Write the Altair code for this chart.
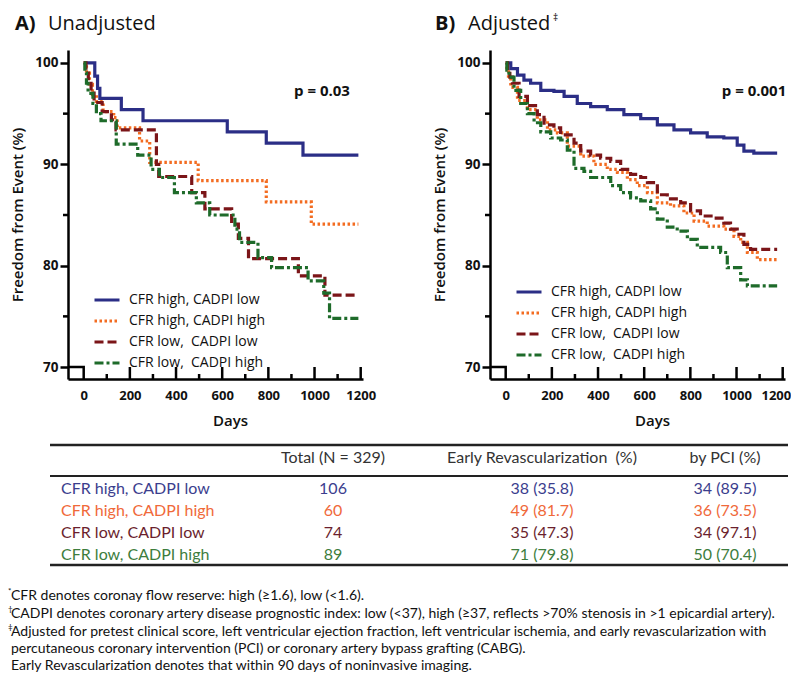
import altair as alt
import pandas as pd

# ---------------- data ----------------
groups = ["CFR high, CADPI low", "CFR high, CADPI high",
          "CFR low,\u00a0 CADPI low", "CFR low,\u00a0 CADPI high"]
line_colors = ["#2b2e86", "#f36c21", "#7b1518", "#1e6b2a"]
line_dashes = [[1, 0], [2.5, 2.5], [9, 4], [9, 3, 3, 3]]

# Panel A (unadjusted Kaplan-Meier)
a_days = [
    [0, 48, 60, 70, 163, 257, 622, 791, 950, 1190],
    [0, 12, 25, 38, 55, 84, 130, 145, 242, 286, 496, 791, 986, 1190],
    [0, 10, 20, 32, 45, 80, 120, 140, 315, 325, 468, 525, 641, 670, 714, 930, 1045, 1190],
    [0, 5, 12, 19, 40, 55, 75, 141, 234, 292, 328, 393, 488, 546, 655, 675, 755, 814, 972, 1040, 1065, 1190],
]
a_surv = [
    [100, 98.7, 97.5, 96.5, 95.4, 94.3, 93.2, 92.1, 90.9, 90.9],
    [100, 99.0, 97.9, 96.9, 96.2, 95.2, 94.6, 93.6, 92.3, 90.2, 88.4, 86.3, 84.1, 84.1],
    [100, 99.0, 98.0, 97.2, 96.1, 95.2, 94.4, 93.4, 90.0, 88.8, 87.2, 85.6, 84.1, 82.7, 80.7, 79.0, 77.1, 77.1],
    [100, 99.0, 98.0, 97.0, 96.0, 95.0, 94.3, 92.0, 90.9, 89.5, 88.7, 87.2, 86.2, 85.0, 83.6, 82.3, 80.8, 79.8, 78.5, 77.3, 74.8, 74.8],
]

# Panel B (adjusted)
b_days = [
    [0, 22, 51, 79, 108, 152, 209, 253, 310, 368, 440, 512, 585, 657, 729, 801, 873, 945, 1003, 1032, 1075, 1176],
    [0, 5, 12, 22, 51, 94, 137, 181, 224, 267, 325, 382, 440, 484, 527, 570, 614, 657, 714, 772, 816, 873, 945, 989, 1018, 1047, 1090, 1176],
    [0, 8, 18, 29, 58, 94, 137, 166, 209, 238, 296, 325, 368, 411, 455, 498, 541, 585, 614, 657, 700, 758, 801, 844, 902, 945, 974, 1003, 1032, 1061, 1176],
    [0, 5, 14, 36, 65, 94, 123, 152, 195, 238, 267, 296, 339, 368, 455, 498, 541, 585, 628, 657, 700, 743, 787, 830, 931, 960, 1018, 1047, 1176],
]
b_surv = [
    [100, 99.45, 98.8, 98.3, 98.0, 97.3, 97.2, 96.7, 96.0, 95.7, 95.4, 94.9, 94.5, 93.9, 93.4, 93.1, 92.7, 92.6, 91.9, 91.3, 91.1, 91.1],
    [100, 99.3, 98.5, 97.6, 96.3, 95.4, 94.4, 93.4, 93.1, 91.8, 90.8, 90.0, 89.5, 89.2, 88.5, 87.9, 87.2, 86.2, 85.9, 85.2, 84.4, 83.9, 83.6, 82.9, 82.3, 81.3, 80.6, 80.6],
    [100, 99.2, 98.6, 98.0, 96.7, 95.8, 94.9, 93.9, 93.6, 92.9, 92.1, 91.3, 90.9, 90.6, 90.3, 89.5, 89.0, 88.7, 88.2, 87.0, 86.6, 86.2, 85.4, 84.9, 84.7, 84.2, 83.6, 83.1, 82.1, 81.6, 81.6],
    [100, 99.3, 98.6, 97.3, 96.0, 95.0, 94.1, 93.2, 92.6, 92.4, 91.4, 89.6, 89.3, 88.7, 87.9, 87.2, 86.7, 86.4, 85.6, 84.6, 83.8, 83.4, 82.6, 81.8, 81.3, 79.8, 78.6, 78.0, 78.0],
]

x_label_values = [0, 200, 400, 600, 800, 1000, 1200]
x_major_ticks = [200, 400, 600, 800, 1000, 1200]
x_minor_ticks = [100, 300, 500, 700, 900, 1100]
y_label_values = [70, 80, 90, 100]
y_minor_ticks = [75, 85, 95]
X_DOMAIN = [-68, 1210]
Y_DOMAIN = [68.82, 101.28]
axis_break_days = [-68, 0, 0]
axis_break_surv = [70, 70, 68.82]

# table
table_labels = ["CFR high, CADPI low", "CFR high, CADPI high", "CFR low, CADPI low", "CFR low, CADPI high"]
table_colors = ["#3b3e8e", "#f0693a", "#6b1f2e", "#3d7d3d"]
table_headers = ["Total (N = 329)", "Early Revascularization\u00a0 (%)", "by PCI (%)"]
total_n = ["106", "60", "74", "89"]
early_revasc = ["38 (35.8)", "49 (81.7)", "35 (47.3)", "71 (79.8)"]
by_pci = ["34 (89.5)", "36 (73.5)", "34 (97.1)", "50 (70.4)"]

footnote_marks = ["*", "\u2020", "\u2021", "", ""]
footnotes = [
    "CFR denotes coronay flow reserve: high (\u22651.6), low (<1.6).",
    "CADPI denotes coronary artery disease prognostic index: low (<37), high (\u226537, reflects >70% stenosis in >1 epicardial artery).",
    "Adjusted for pretest clinical score, left ventricular ejection fraction, left ventricular ischemia, and early revascularization with",
    "\u00a0percutaneous coronary intervention (PCI) or coronary artery bypass grafting (CABG).",
    "Early Revascularization denotes that within 90 days of noninvasive imaging.",
]

# ---------------- layout / style ----------------
W, H = 295, 329
FONT = "Open Sans"
TFONT = "Lato"


def one_text(txt, x, y, size, weight="normal", align="left", color="#111", font=FONT):
    return alt.Chart(pd.DataFrame({"t": [txt]})).mark_text(
        align=align, baseline="middle", font=font, fontSize=size,
        fontWeight=weight, color=color
    ).encode(text="t:N", x=alt.value(x), y=alt.value(y))


def panel(days, surv, letter, word, letter_x, pval, p_x, legend_y, flush_off, extra=None):
    rows = []
    for g, ds, vs in zip(groups, days, surv):
        for d, v in zip(ds, vs):
            rows.append({"group": g, "day": d, "surv": v})
    df = pd.DataFrame(rows)
    xs = alt.Scale(domain=X_DOMAIN, nice=False, zero=False)
    ys = alt.Scale(domain=Y_DOMAIN, nice=False, zero=False)
    leg = alt.Legend(title=None, orient="none", legendX=25, legendY=legend_y,
                     symbolType="stroke", symbolSize=625, symbolStrokeWidth=3,
                     labelFont=FONT, labelFontSize=14, labelColor="#111",
                     rowPadding=-8, padding=0, labelOffset=8)
    xaxis_kw = dict(values=x_label_values, format="d", title="Days", ticks=False, tickSize=0,
                    labelFont=FONT, labelFontSize=13, labelFontWeight="bold", labelColor="#111",
                    labelPadding=10, domainColor="black", domainWidth=2.5, grid=False,
                    titleFont=FONT, titleFontSize=15, titleFontWeight=600, titleColor="#111",
                    titlePadding=11, titleX=162)
    if flush_off is not None:
        xaxis_kw.update(labelFlush=5, labelFlushOffset=flush_off)
    xaxis = alt.Axis(**xaxis_kw)
    yaxis = alt.Axis(
        values=y_label_values, title="Freedom from Event (%)", tickSize=8, tickWidth=2.5,
        tickColor="black", domainColor="black", domainWidth=2.5, grid=False,
        labelFont=FONT, labelFontSize=13.5, labelFontWeight="bold", labelColor="#111",
        labelPadding=2, titleFont=FONT, titleFontSize=15, titleFontWeight=600,
        titleColor="#111", titlePadding=9)
    X = alt.X("day:Q", scale=xs, axis=xaxis)
    Y = alt.Y("surv:Q", scale=ys, axis=yaxis)
    lines = alt.Chart(df).mark_line(interpolate="step-after", strokeWidth=3.2).encode(
        x=X, y=Y,
        color=alt.Color("group:N", scale=alt.Scale(domain=groups, range=line_colors), legend=leg),
        strokeDash=alt.StrokeDash("group:N", scale=alt.Scale(domain=groups, range=line_dashes), legend=leg),
    )
    major = alt.Chart(pd.DataFrame({"day": x_major_ticks})).mark_rule(color="black", strokeWidth=2.5).encode(
        x=X, y=alt.value(H), y2=alt.value(H - 12))
    minor = alt.Chart(pd.DataFrame({"day": x_minor_ticks})).mark_rule(color="black", strokeWidth=2.5).encode(
        x=X, y=alt.value(H), y2=alt.value(H - 5))
    yminor = alt.Chart(pd.DataFrame({"surv": y_minor_ticks})).mark_rule(color="black", strokeWidth=2.5).encode(
        y=Y, x=alt.value(-5), x2=alt.value(0))
    brk = alt.Chart(pd.DataFrame({"day": axis_break_days, "surv": axis_break_surv, "o": [0, 1, 2]})).mark_line(
        color="black", strokeWidth=2.5).encode(x=X, y=Y, order="o:O")
    layers = [lines, major, minor, yminor, brk,
              one_text(letter, letter_x, -26, 20, "bold"),
              one_text(word, letter_x + 33, -26, 20),
              one_text(pval, p_x, 41, 15, "bold", "center")]
    if extra is not None:
        layers.append(extra)
    return alt.layer(*layers).properties(width=W, height=H)


panel_a = panel(a_days, a_surv, "A)", "Unadjusted", -53, "p = 0.03", 254, 236, None)
panel_b = panel(b_days, b_surv, "B)", "Adjusted", -55, "p = 0.001", 264, 228, 8,
                extra=one_text("\u2021", 63, -32, 10))

# ---------------- table + footnotes ----------------
TW, TH = 720, 230
tdf = pd.DataFrame({"group": table_labels, "n": total_n, "early": early_revasc, "pci": by_pci})
row_scale = alt.Scale(type="point", domain=table_labels, range=[50, 116], padding=0)
col_color = alt.Color("group:N", scale=alt.Scale(domain=table_labels, range=table_colors), legend=None)


def col(field, x, align):
    return alt.Chart(tdf).mark_text(align=align, baseline="middle", font=TFONT, fontSize=16).encode(
        text=f"{field}:N", x=alt.value(x), y=alt.Y("group:N", scale=row_scale, axis=None), color=col_color)


def hrule(y, w):
    return alt.Chart(pd.DataFrame({"a": [0]})).mark_rule(color="#222", strokeWidth=w).encode(
        x=alt.value(-18), x2=alt.value(TW), y=alt.value(y))


tlayers = [hrule(6, 2.5), hrule(37, 2.2), hrule(126, 2.5),
           col("group", -7, "left"), col("n", 265, "center"), col("early", 474, "center"), col("pci", 657, "center")]
for htxt, hx in zip(table_headers, [265, 474, 657]):
    tlayers.append(one_text(htxt, hx, 19, 16, align="center", color="#333", font=TFONT))
for i, (m, t) in enumerate(zip(footnote_marks, footnotes)):
    fy = [157, 175, 193, 210, 227][i]
    if m:
        tlayers.append(one_text(m, -60, fy - 4, 8, color="#111", font=TFONT))
    tlayers.append(one_text(t, -57, fy, 14, color="#111", font=TFONT))

table = alt.layer(*tlayers).properties(width=TW, height=TH)

top = alt.hconcat(panel_a, panel_b, spacing=127, bounds="flush").resolve_scale(
    color="independent", strokeDash="independent", x="independent", y="independent"
).resolve_legend(color="independent", strokeDash="independent")

chart = alt.vconcat(top, table, spacing=11).resolve_scale(
    color="independent", strokeDash="independent", x="independent", y="independent"
).resolve_legend(color="independent", strokeDash="independent").properties(
    padding={"top": 5, "left": 0, "right": 0, "bottom": 0}, background="white"
).configure_view(stroke=None)

chart.save("out.html", embed_options={"renderer": "svg", "actions": False})
